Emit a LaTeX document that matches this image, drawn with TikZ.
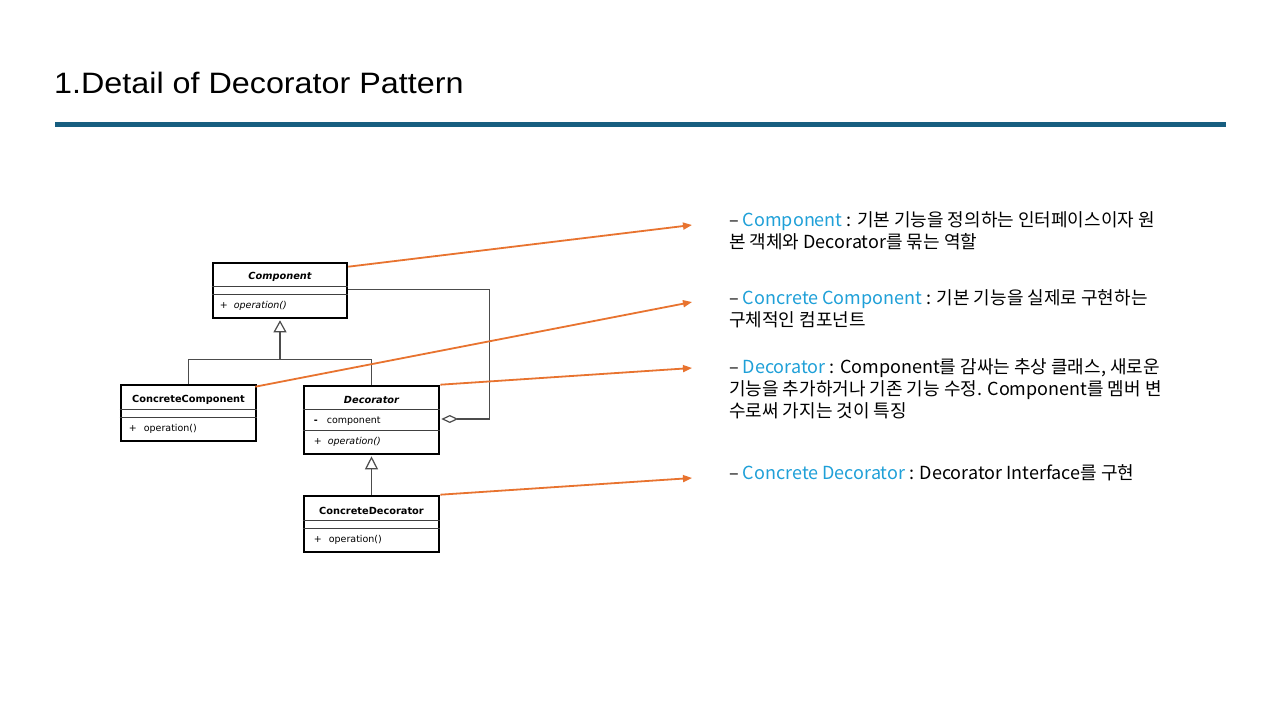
\documentclass[tikz,border=0pt]{standalone}
\usepackage{fontspec}
\setmainfont{Noto Sans CJK KR}
\newfontfamily\umlfont{DejaVu Sans}
\newfontfamily\titlefont[FakeStretch=1.095]{Liberation Sans}
\usetikzlibrary{arrows.meta,positioning}
\definecolor{ruleblue}{HTML}{175E80}
\definecolor{accent}{HTML}{1FA0D8}
\definecolor{calloutorange}{HTML}{E8732F}
\tikzset{
  umlbox/.style={draw=black, line width=2.6pt, inner sep=0pt, fill=white},
  sepline/.style={draw=black!75, line width=1.1pt},
  umltitle/.style={font=\umlfont\fontsize{9.8}{11}\selectfont\bfseries, inner sep=0pt},
  umlmember/.style={font=\umlfont\fontsize{9.5}{11}\selectfont, inner sep=0pt, anchor=west},
  umllink/.style={draw=black!70, line width=1.2pt},
  callout/.style={draw=calloutorange, line width=1.8pt, -{Triangle[length=9pt,width=7pt,fill=calloutorange]}},
  note/.style={anchor=north west, inner sep=0pt, align=left, font=\fontsize{18}{22}\selectfont},
}
\begin{document}
\begin{tikzpicture}[x=1pt, y=-1pt]
  % 0. page
  \fill[white] (0,0) rectangle (1280,720);
  \useasboundingbox (0,0) rectangle (1280,720);

  % 1. title and rule
  \node[anchor=base west, inner sep=0pt, font=\titlefont\fontsize{29.5}{32}\selectfont] (title) at (54,93.5) {1.Detail of Decorator Pattern};
  \draw[ruleblue, line width=4.7pt] (55,124.3) -- (1226,124.3);

  % 2. class boxes
  \node[umlbox, minimum width=134pt, minimum height=55pt] (cmp) at (280,290.5) {};
  \node[umlbox, minimum width=135pt, minimum height=56pt] (cc) at (188.5,413) {};
  \node[umlbox, minimum width=135pt, minimum height=68pt] (dec) at (371.5,420) {};
  \node[umlbox, minimum width=135pt, minimum height=56pt] (cd) at (371.5,524) {};

  % compartments
  \foreach \cls/\a/\b in {cmp/24.5/33, cc/25.5/33.5, dec/24.5/46, cd/25.5/33.5}{
    \draw[sepline] ([yshift=-\a pt]\cls.north west) -- ([yshift=-\a pt]\cls.north east);
    \draw[sepline] ([yshift=-\b pt]\cls.north west) -- ([yshift=-\b pt]\cls.north east);
  }

  % class names
  \node[umltitle] (cmp-name) at ([yshift=-15pt]cmp.north) {\itshape Component};
  \node[umltitle] (cc-name) at ([yshift=-16pt]cc.north) {ConcreteComponent};
  \node[umltitle] (dec-name) at ([yshift=-15.5pt]dec.north) {\itshape Decorator};
  \node[umltitle] (cd-name) at ([yshift=-16pt]cd.north) {ConcreteDecorator};

  % members
  \node[umlmember] (cmp-op) at ([shift={(8pt,-44.5pt)}]cmp.north west) {+\hspace{6pt}\itshape operation()};
  \node[umlmember] (cc-op) at ([shift={(9pt,-45.5pt)}]cc.north west) {+\hspace{7pt}operation()};
  \node[umlmember] (dec-att) at ([shift={(11pt,-36.5pt)}]dec.north west) {\textbf{-}\hspace{9pt}component};
  \node[umlmember] (dec-op) at ([shift={(11pt,-57.5pt)}]dec.north west) {+\hspace{6pt}\itshape operation()};
  \node[umlmember] (cd-op) at ([shift={(11pt,-45.5pt)}]cd.north west) {+\hspace{7pt}operation()};

  % 3. generalisation and aggregation
  \coordinate (fork) at ([yshift=-40pt]cmp.south);
  \draw[umllink] (cc.north) |- (fork) -| (dec.north);
  \draw[umllink, -{Triangle[open, length=12pt, width=13pt, fill=white]}, shorten >=1pt] (fork) -- (cmp.south);
  \draw[umllink, -{Triangle[open, length=13pt, width=13pt, fill=white]}, shorten >=1pt] (cd.north) -- (dec.south);
  \coordinate (agg) at ([xshift=49pt, yshift=1pt]dec.east);
  \draw[umllink, {Diamond[open, length=17pt, width=8pt, fill=white]}-, shorten <=1pt] ([yshift=1pt]dec.east) -- (agg) |- ([yshift=1.2pt]cmp.east);

  % 4. notes
  \node[note] (n1) at (729,211) {– {\color{accent}Component} : 기본 기능을 정의하는 인터페이스이자 원\\본 객체와 Decorator를 묶는 역할};
  \node[note] (n2) at (729,289) {– {\color{accent}Concrete Component} : 기본 기능을 실제로 구현하는\\구체적인 컴포넌트};
  \node[note] (n3) at (729,358) {– {\color{accent}Decorator} : Component를 감싸는 추상 클래스, 새로운\\기능을 추가하거나 기존 기능 수정. Component를 멤버 변\\수로써 가지는 것이 특징};
  \node[note] (n4) at (729,464) {– {\color{accent}Concrete Decorator} : Decorator Interface를 구현};

  % 5. callouts
  \coordinate (tip1) at (692,225);
  \coordinate (tip2) at (692,302);
  \coordinate (tip3) at (692,368);
  \coordinate (tip4) at (692,478);
  \draw[callout] ([yshift=-5pt]cmp.north east) -- (tip1);
  \draw[callout] ([shift={(-2pt,-3pt)}]cc.north east) -- (tip2);
  \draw[callout] (dec.north east) -- (tip3);
  \draw[callout] (cd.north east) -- (tip4);
\end{tikzpicture}
\end{document}
